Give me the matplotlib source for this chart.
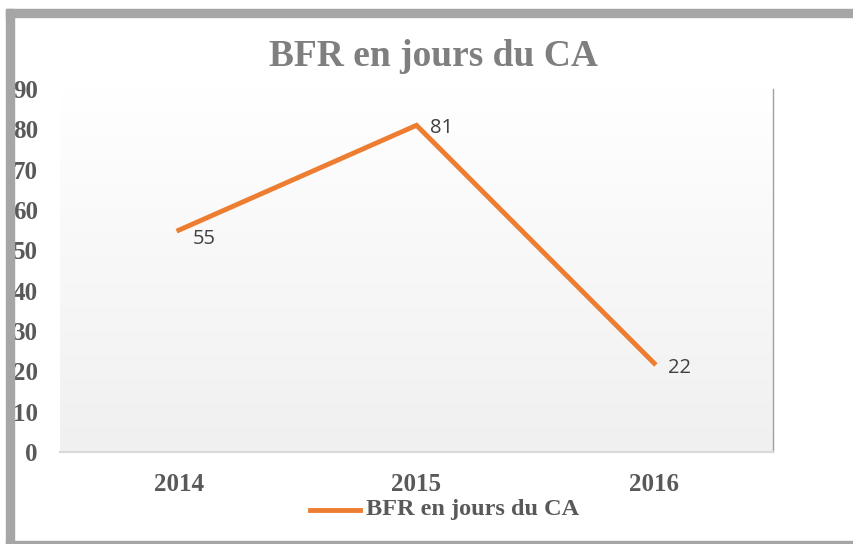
import matplotlib
matplotlib.use("Agg")
import matplotlib.pyplot as plt
import numpy as np
from matplotlib.patches import Rectangle
from matplotlib.lines import Line2D

years = ["2014", "2015", "2016"]
values = [55, 81, 22]
yticks = [0, 10, 20, 30, 40, 50, 60, 70, 80, 90]
title = "BFR en jours du CA"
series_name = "BFR en jours du CA"

W, H = 854, 544
fig = plt.figure(figsize=(W / 100, H / 100), dpi=100)
fig.patch.set_facecolor("white")

# figure frame
border = "#A6A6A6"
fig.patches.append(Rectangle((6 / W, 0), 8 / W, 1 - 9 / H, transform=fig.transFigure, color=border, zorder=0))
fig.patches.append(Rectangle((6 / W, 1 - 17 / H), 1, 8 / H, transform=fig.transFigure, color=border, zorder=0))
fig.patches.append(Rectangle((6 / W, 1 / H), 1, 2 / H, transform=fig.transFigure, color=border, zorder=0))

left, right, top, bottom = 60, 773, 89, 452
ax = fig.add_axes([left / W, 1 - bottom / H, (right - left) / W, (bottom - top) / H])
ax.set_facecolor("none")

x = np.arange(len(years)) + 0.5
ax.set_xlim(0, len(years))
ax.set_ylim(0, 90)

# gradient background
grad = np.linspace(1.0, 0.0, 256).reshape(-1, 1)
c_top = np.array([1.0, 1.0, 1.0])
c_bot = np.array([0xF0, 0xF0, 0xF0]) / 255
img = c_bot + (c_top - c_bot) * grad[..., None].repeat(1, axis=1)
img = np.repeat(img, 2, axis=1)
ax.imshow(img, extent=[0, 1, 0, 1], transform=ax.transAxes, aspect="auto", zorder=0)

ax.plot(x, values, color="#ED7D31", lw=3.5, solid_joinstyle="miter", zorder=3)

offsets = [(14, -9), (14, -3), (14, -5)]
for xi, v, (dx, dy) in zip(x, values, offsets):
    ax.annotate(str(v), (xi, v), xytext=(dx, dy), textcoords="offset pixels",
                ha="left", va="center", fontsize=14.5, color="#404040",
                family="Open Sans", zorder=4)

for s in ["top", "left"]:
    ax.spines[s].set_visible(False)
ax.spines["bottom"].set_color("#D9D9D9")
ax.spines["bottom"].set_linewidth(1.5)
ax.spines["right"].set_color("#A0A0A0")
ax.spines["right"].set_linestyle((0, (2, 1)))
ax.spines["right"].set_linewidth(1)

serif = "Liberation Serif"
ax.set_yticks(yticks)
ax.set_yticklabels([str(t) for t in yticks], fontsize=18, fontweight="bold",
                   family=serif, color="#595959")
ax.set_xticks(x)
ax.set_xticklabels(years, fontsize=18, fontweight="bold", family=serif, color="#595959")
ax.tick_params(axis="y", length=0, pad=16)
ax.tick_params(axis="x", length=0, pad=15)

fig.text(433 / W, 1 - 56 / H, title, ha="center", va="center", fontsize=27,
         fontweight="bold", family=serif, color="#7F7F7F")

# legend
fig.lines.append(Line2D([310 / W, 360 / W], [1 - 510 / H, 1 - 510 / H], transform=fig.transFigure,
                        color="#ED7D31", lw=3.5))
fig.text(366 / W, 1 - 510 / H, series_name, ha="left", va="center", fontsize=17.5,
         fontweight="bold", family=serif, color="#595959")

fig.savefig("out.png", dpi=100)
